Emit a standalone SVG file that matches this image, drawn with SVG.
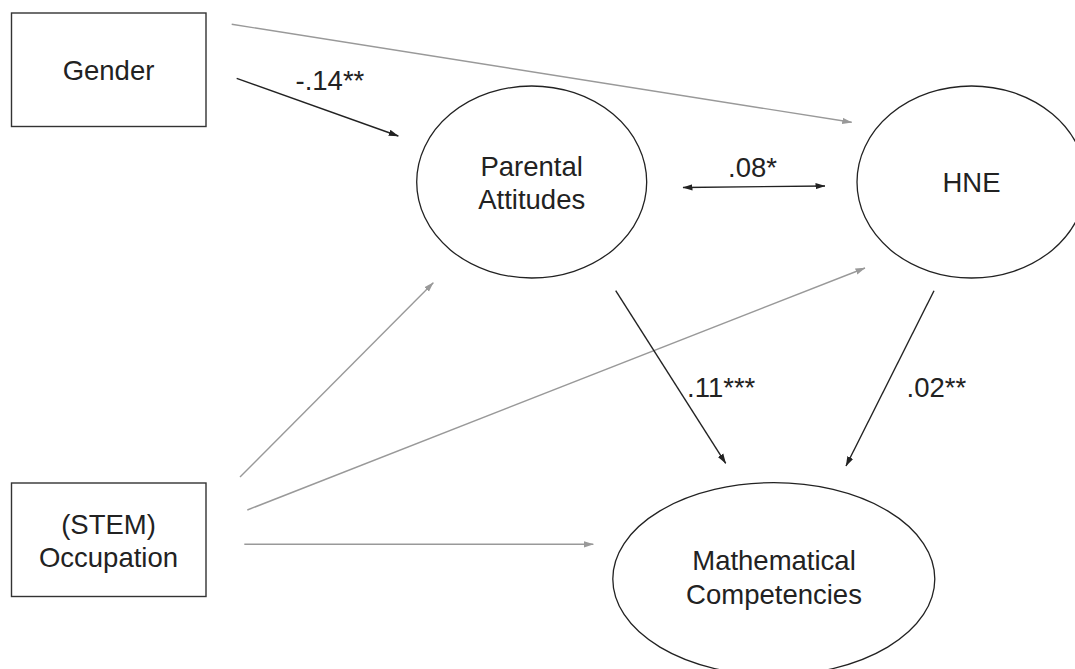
<svg xmlns="http://www.w3.org/2000/svg" width="1075" height="669" viewBox="0 0 1075 669">
<style>
  .box{fill:#fff;stroke:#333;stroke-width:1.4}
  .lat{fill:#fff;stroke:#222;stroke-width:1.3}
  .t{font-family:"Liberation Sans",Arial,sans-serif;font-size:27.5px;fill:#222;text-anchor:middle}
  .lbl{font-family:"Liberation Sans",Arial,sans-serif;font-size:27.5px;fill:#222}
  .blk{stroke:#222;stroke-width:1.4;fill:none;marker-end:url(#ab)}
  .gry{stroke:#999;stroke-width:1.4;fill:none;marker-end:url(#ag)}
</style>
<defs>
  <marker id="ab" viewBox="0 0 10 8" refX="9.5" refY="4" markerWidth="10" markerHeight="8" markerUnits="userSpaceOnUse" orient="auto-start-reverse">
    <path d="M0,0.8 L10,4 L0,7.2 z" fill="#222"/>
  </marker>
  <marker id="ag" viewBox="0 0 10 8" refX="9.5" refY="4" markerWidth="10" markerHeight="8" markerUnits="userSpaceOnUse" orient="auto">
    <path d="M0,0.8 L10,4 L0,7.2 z" fill="#999"/>
  </marker>
</defs>
<rect width="1075" height="669" fill="#fff"/>
<g id="connectors">
  <line class="gry" x1="231.7" y1="24.3" x2="851.7" y2="122.3"/>
  <line class="blk" x1="236.7" y1="78.3" x2="398.3" y2="136"/>
  <line class="blk" x1="683" y1="187.5" x2="825" y2="186" style="marker-start:url(#ab)"/>
  <line class="gry" x1="240" y1="477" x2="433.3" y2="282.7"/>
  <line class="gry" x1="247.3" y1="510" x2="865" y2="268"/>
  <line class="gry" x1="244.3" y1="544.3" x2="593.3" y2="544.3"/>
  <line class="blk" x1="615.7" y1="290.7" x2="725.7" y2="463.3"/>
  <line class="blk" x1="934" y1="290.7" x2="846" y2="466"/>
  <text class="lbl" x="295.5" y="90">-.14**</text>
  <text class="lbl" x="728" y="176.5">.08*</text>
  <text class="lbl" x="687" y="396.7">.11***</text>
  <text class="lbl" x="906.5" y="396.7">.02**</text>
</g>
<g id="gender">
  <rect class="box" x="11.5" y="13" width="194.5" height="113.5"/>
  <text class="t" x="108.5" y="80">Gender</text>
</g>
<g id="occupation">
  <rect class="box" x="11.5" y="483" width="194.5" height="113.5"/>
  <text class="t" x="108.5" y="534">(STEM)</text>
  <text class="t" x="108.5" y="567">Occupation</text>
</g>
<g id="parental">
  <ellipse class="lat" cx="531.7" cy="182" rx="115" ry="96"/>
  <text class="t" x="531.7" y="175.7">Parental</text>
  <text class="t" x="531.7" y="209">Attitudes</text>
</g>
<g id="hne">
  <ellipse class="lat" cx="971.5" cy="182" rx="114.5" ry="96"/>
  <text class="t" x="971.5" y="192">HNE</text>
</g>
<g id="math">
  <ellipse class="lat" cx="773.8" cy="579" rx="161" ry="96.3"/>
  <text class="t" x="774" y="570">Mathematical</text>
  <text class="t" x="774" y="604">Competencies</text>
</g>
</svg>
